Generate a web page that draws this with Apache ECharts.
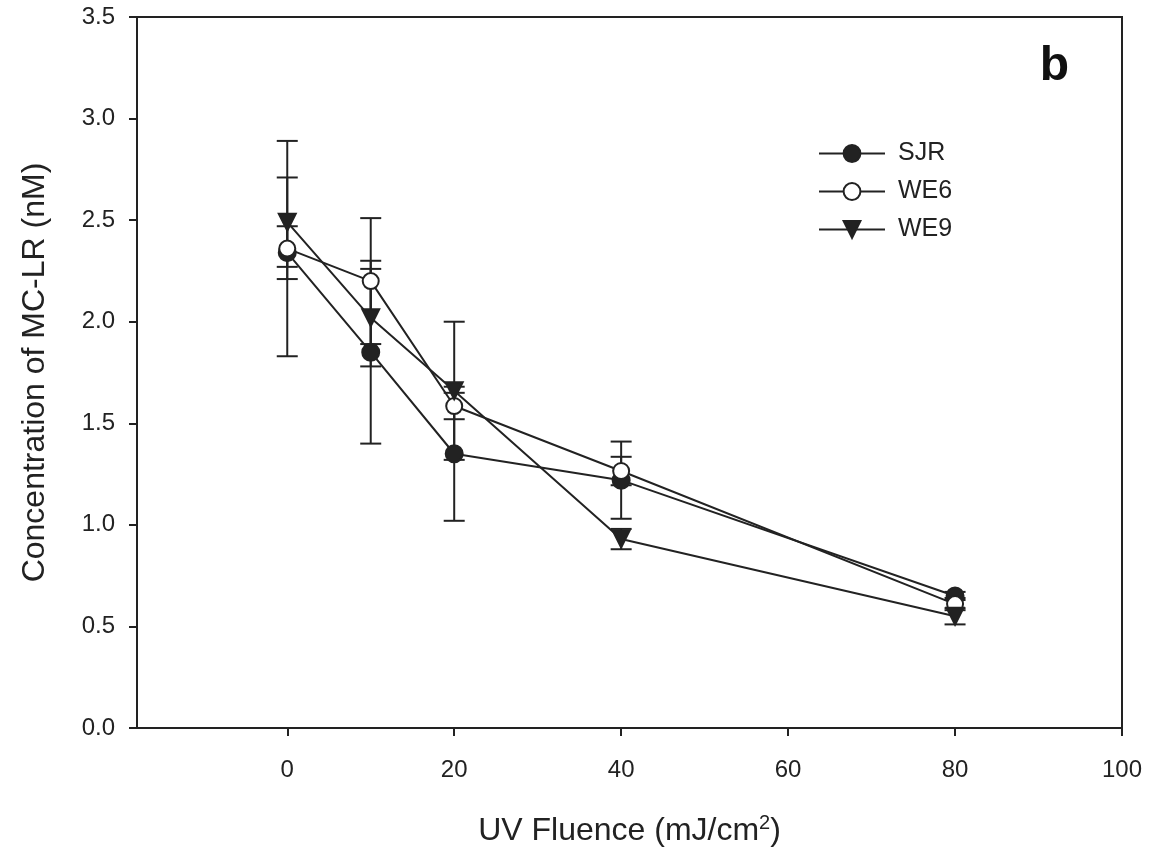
<!DOCTYPE html>
<html>
<head>
<meta charset="utf-8">
<script src="https://cdn.jsdelivr.net/npm/echarts@6/dist/echarts.min.js"></script>
<style>
  html, body { margin: 0; padding: 0; background: #fff; }
  #chart { width: 1149px; height: 856px; }
</style>
</head>
<body>
<div id="chart"></div>
<script>
// UV fluence (mJ/cm2)
const fluence = [0, 10, 20, 40, 80];
const xTicks = [0, 20, 40, 60, 80, 100];

// MC-LR concentration (nM) and error bars
const sjr = [2.34, 1.85, 1.35, 1.22, 0.65];
const sjrErr = [0.13, 0.45, 0.33, 0.19, 0.02];
const we6 = [2.36, 2.2, 1.585, 1.265, 0.61];
const we6Err = [0.53, 0.31, 0.065, 0.07, 0.03];
const we9 = [2.49, 2.02, 1.66, 0.93, 0.55];
const we9Err = [0.22, 0.24, 0.34, 0.05, 0.04];

const ink = "#222";
const font = "Liberation Sans, Arial, sans-serif";

const mychart = echarts.init(document.getElementById("chart"));

// error bar: vertical stroke plus caps
const errBar = (name, vals, errs) => ({
  name: name + "_err",
  type: "custom",
  z: 1,
  silent: true,
  data: fluence.map((x, i) => [x, vals[i] - errs[i], vals[i] + errs[i]]),
  renderItem: (params, api) => {
    const lo = api.coord([api.value(0), api.value(1)]);
    const hi = api.coord([api.value(0), api.value(2)]);
    const hw = 10.5;
    const st = { stroke: ink, lineWidth: 2 };
    return {
      type: "group",
      children: [
        { type: "line", shape: { x1: lo[0], y1: lo[1], x2: hi[0], y2: hi[1] }, style: st },
        { type: "line", shape: { x1: lo[0] - hw, y1: lo[1], x2: lo[0] + hw, y2: lo[1] }, style: st },
        { type: "line", shape: { x1: hi[0] - hw, y1: hi[1], x2: hi[0] + hw, y2: hi[1] }, style: st },
      ],
    };
  },
});

const lineSeries = (name, vals, symbol, fill, size, rotate) => ({
  name: name,
  type: "line",
  z: 3,
  data: fluence.map((x, i) => [x, vals[i]]),
  symbol: symbol,
  symbolSize: size,
  symbolRotate: rotate || 0,
  showAllSymbol: true,
  lineStyle: { color: ink, width: 2 },
  itemStyle: { color: fill, borderColor: ink, borderWidth: 2 },
  emphasis: { disabled: true },
});

const option = {
  animation: false,
  backgroundColor: "#fff",
  title: {
    text: "b",
    right: 75,
    top: 38,
    textStyle: { fontFamily: font, fontSize: 48, fontWeight: "bold", color: "#111" },
  },
  legend: {
    orient: "vertical",
    left: 813,
    top: 136,
    itemWidth: 66,
    itemHeight: 21,
    itemGap: 13,
    data: ["SJR", "WE6", "WE9"],
    textStyle: { fontFamily: font, fontSize: 25, color: ink, padding: [0, 0, 0, 8] },
  },
  grid: {
    left: 137,
    right: 27,
    top: 17,
    bottom: 128,
    show: true,
    borderColor: ink,
    borderWidth: 2,
    backgroundColor: "transparent",
  },
  xAxis: {
    type: "value",
    min: -18,
    max: 100,
    name: "UV Fluence (mJ/cm{sup|2})",
    nameLocation: "middle",
    nameGap: 85,
    nameTextStyle: {
      fontFamily: font,
      fontSize: 32,
      color: ink,
      rich: { sup: { fontFamily: font, fontSize: 20, color: ink, verticalAlign: "top", padding: [0, 0, 16, 0] } },
    },
    splitLine: { show: false },
    axisLine: { onZero: false, lineStyle: { color: ink, width: 2 } },
    axisTick: { show: true, length: 8, customValues: xTicks, lineStyle: { color: ink, width: 2 } },
    axisLabel: { customValues: xTicks, margin: 30, fontFamily: font, fontSize: 24, color: ink },
  },
  yAxis: {
    type: "value",
    min: 0,
    max: 3.5,
    interval: 0.5,
    name: "Concentration of MC-LR (nM)",
    nameLocation: "middle",
    nameGap: 86,
    nameTextStyle: { fontFamily: font, fontSize: 32, color: ink },
    splitLine: { show: false },
    axisLine: { show: true, onZero: false, lineStyle: { color: ink, width: 2 } },
    axisTick: { show: true, length: 8, lineStyle: { color: ink, width: 2 } },
    axisLabel: {
      margin: 22,
      fontFamily: font,
      fontSize: 24,
      color: ink,
      formatter: (v) => v.toFixed(1),
    },
  },
  series: [
    errBar("SJR", sjr, sjrErr),
    errBar("WE6", we6, we6Err),
    errBar("WE9", we9, we9Err),
    lineSeries("SJR", sjr, "circle", ink, 17),
    lineSeries("WE6", we6, "circle", "#fff", 16),
    lineSeries("WE9", we9, "triangle", ink, 17, 180),
  ],
};
mychart.setOption(option);
</script>
</body>
</html>
